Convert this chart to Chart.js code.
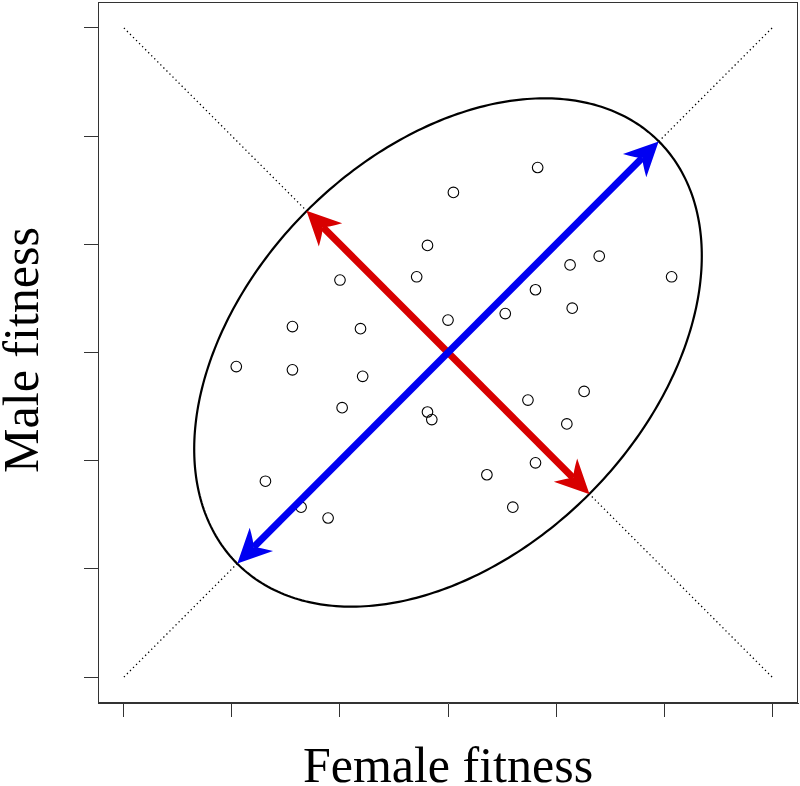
<!DOCTYPE html>
<html>
<head>
<meta charset="utf-8">
<script src="https://cdn.jsdelivr.net/npm/chart.js@4/dist/chart.umd.min.js"></script>
<style>
  body { margin: 0; background: #fff; }
  #wrap { width: 800px; height: 786px; }
</style>
</head>
<body>
<div id="wrap"><canvas id="chartFitness"></canvas></div>
<script>
// DATOS

const femaleFitness = [0.83, 0.05, -0.19, 1.40, 1.13, -0.29, 2.07, -1.00, 0.81, 1.15,
  0.53, 0.00, -1.44, -0.81, -1.96, -1.44, -0.79, 1.26, 0.74, -0.98,
  -0.19, -0.15, 1.10, 0.81, 0.36, -1.69, -1.36, 0.60, -1.11];
const maleFitness = [1.71, 1.48, 0.99, 0.89, 0.81, 0.70, 0.70, 0.67, 0.58, 0.41,
  0.36, 0.30, 0.24, 0.22, -0.13, -0.16, -0.22, -0.36, -0.44, -0.51,
  -0.55, -0.62, -0.66, -1.02, -1.13, -1.19, -1.43, -1.43, -1.53];

const tickValues = [-3, -2, -1, 0, 1, 2, 3];
const axisMin = -3.24;
const axisMax = 3.24;

// diagonales punteadas
const diagUpX = [-3, 3];
const diagUpY = [-3, 3];
const diagDownX = [-3, 3];
const diagDownY = [3, -3];

// elipse (centro, semiejes, ángulo en grados)
const ellipseCenter = [0, 0];
const ellipseAxes = [2.76, 1.85];
const ellipseAngle = 45;

// flechas dobles [x1, y1, x2, y2]
const blueArrow = [-1.95, -1.95, 1.95, 1.95];
const redArrow = [-1.31, 1.31, 1.31, -1.31];

const xTitle = "Female fitness";
const yTitle = "Male fitness";

function toPoints(xs, ys) {
  return xs.map((x, i) => ({ x: x, y: ys[i] }));
}

/**
 * Dibuja una flecha con punta en ambos extremos
 */
function drawArrow(ctx, x1, y1, x2, y2, color) {
  const dx = x2 - x1;
  const dy = y2 - y1;
  const len = Math.sqrt(dx * dx + dy * dy);
  const ux = dx / len;
  const uy = dy / len;
  const headLen = 34;
  const headHalf = 16.5;
  const notch = 23;

  ctx.save();
  ctx.strokeStyle = color;
  ctx.fillStyle = color;
  ctx.lineWidth = 7;
  ctx.lineCap = "butt";
  ctx.beginPath();
  ctx.moveTo(x1 + ux * notch, y1 + uy * notch);
  ctx.lineTo(x2 - ux * notch, y2 - uy * notch);
  ctx.stroke();

  [[x2, y2, ux, uy], [x1, y1, -ux, -uy]].forEach(([tx, ty, dx1, dy1]) => {
    const px = -dy1;
    const py = dx1;
    ctx.beginPath();
    ctx.moveTo(tx, ty);
    ctx.lineTo(tx - dx1 * headLen + px * headHalf, ty - dy1 * headLen + py * headHalf);
    ctx.quadraticCurveTo(
      tx - dx1 * (notch + 4) + px * 4, ty - dy1 * (notch + 4) + py * 4,
      tx - dx1 * notch, ty - dy1 * notch);
    ctx.quadraticCurveTo(
      tx - dx1 * (notch + 4) - px * 4, ty - dy1 * (notch + 4) - py * 4,
      tx - dx1 * headLen - px * headHalf, ty - dy1 * headLen - py * headHalf);
    ctx.closePath();
    ctx.fill();
  });
  ctx.restore();
}

const extras = {
  id: "extras",
  afterDatasetsDraw(chart) {
    const ctx = chart.ctx;
    const xs = chart.scales.x;
    const ys = chart.scales.y;

    // elipse
    const a = ellipseAxes[0];
    const b = ellipseAxes[1];
    const th = ellipseAngle * Math.PI / 180;
    ctx.save();
    ctx.strokeStyle = "#000";
    ctx.lineWidth = 2.2;
    ctx.beginPath();
    for (let i = 0; i <= 360; i++) {
      const t = i * Math.PI / 180;
      const ex = ellipseCenter[0] + a * Math.cos(t) * Math.cos(th) - b * Math.sin(t) * Math.sin(th);
      const ey = ellipseCenter[1] + a * Math.cos(t) * Math.sin(th) + b * Math.sin(t) * Math.cos(th);
      const px = xs.getPixelForValue(ex);
      const py = ys.getPixelForValue(ey);
      if (i === 0) ctx.moveTo(px, py); else ctx.lineTo(px, py);
    }
    ctx.closePath();
    ctx.stroke();
    ctx.restore();

    // flechas
    drawArrow(ctx,
      xs.getPixelForValue(redArrow[0]), ys.getPixelForValue(redArrow[1]),
      xs.getPixelForValue(redArrow[2]), ys.getPixelForValue(redArrow[3]), "#d80000");
    drawArrow(ctx,
      xs.getPixelForValue(blueArrow[0]), ys.getPixelForValue(blueArrow[1]),
      xs.getPixelForValue(blueArrow[2]), ys.getPixelForValue(blueArrow[3]), "#0000f2");
  },
  afterDraw(chart) {
    const ctx = chart.ctx;
    const area = chart.chartArea;
    ctx.save();
    // caja
    ctx.strokeStyle = "#333";
    ctx.lineWidth = 1;
    ctx.strokeRect(area.left + 0.5, area.top + 0.5, area.right - area.left - 1, area.bottom - area.top - 1);

    // títulos de ejes
    ctx.fillStyle = "#000";
    ctx.font = '50px "Liberation Serif", "Times New Roman", serif';
    ctx.textAlign = "center";
    ctx.textBaseline = "alphabetic";
    ctx.fillText(xTitle, (area.left + area.right) / 2, 782);
    ctx.translate(38, 350);
    ctx.rotate(-Math.PI / 2);
    ctx.fillText(yTitle, 0, 0);
    ctx.restore();
  }
};

function axisOptions(size, prop) {
  return {
    type: "linear",
    min: axisMin,
    max: axisMax,
    afterBuildTicks: (scale) => {
      scale.ticks = tickValues.map((v) => ({ value: v }));
    },
    afterFit: (scale) => {
      scale[prop] = size;
    },
    ticks: { display: false },
    grid: {
      drawOnChartArea: false,
      drawTicks: true,
      tickLength: 14,
      color: "#333",
      lineWidth: 1
    },
    border: { display: true, color: "#333" }
  };
}

document.addEventListener("DOMContentLoaded", function () {
  const ctx = document.getElementById("chartFitness").getContext("2d");

  new Chart(ctx, {
    type: "scatter",
    data: {
      datasets: [
        {
          data: toPoints(femaleFitness, maleFitness),
          pointStyle: "circle",
          pointRadius: 5.3,
          pointBorderWidth: 1.1,
          pointBorderColor: "#000",
          pointBackgroundColor: "rgba(0,0,0,0)"
        },
        {
          type: "line",
          data: toPoints(diagUpX, diagUpY),
          borderColor: "#000",
          borderWidth: 1.3,
          borderDash: [1.3, 3],
          pointRadius: 0,
          fill: false
        },
        {
          type: "line",
          data: toPoints(diagDownX, diagDownY),
          borderColor: "#000",
          borderWidth: 1.3,
          borderDash: [1.3, 3],
          pointRadius: 0,
          fill: false
        }
      ]
    },
    options: {
      responsive: true,
      maintainAspectRatio: false,
      animation: false,
      layout: { autoPadding: false, padding: { left: 0, top: 2, right: 2, bottom: 0 } },
      plugins: {
        legend: { display: false },
        tooltip: { enabled: false }
      },
      scales: {
        x: axisOptions(83, "height"),
        y: axisOptions(98, "width")
      }
    },
    plugins: [extras]
  });
});
</script>
</body>
</html>
